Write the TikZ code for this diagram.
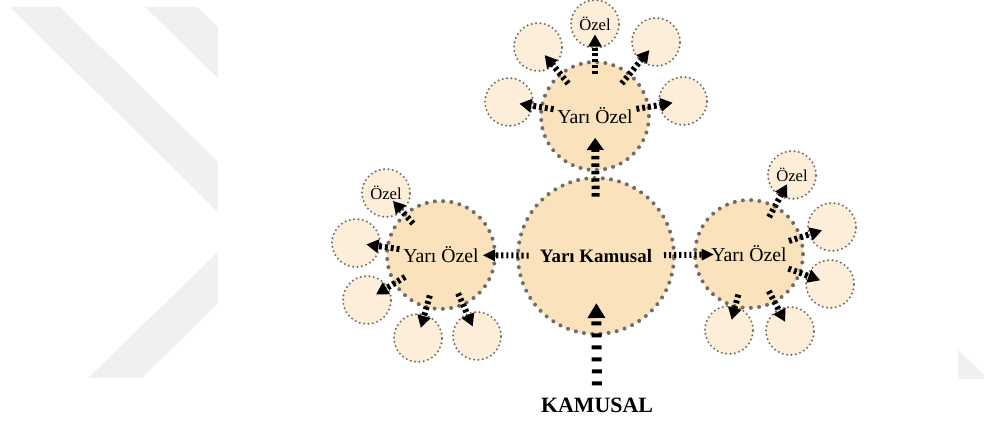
\documentclass[tikz,border=0pt]{standalone}
\usepackage{fontspec}
\setmainfont{Liberation Serif}
\usetikzlibrary{arrows.meta}
\definecolor{zonefill}{HTML}{FAE3BC}
\definecolor{cellfill}{HTML}{FDEEDA}
\definecolor{dotgray}{HTML}{726C66}
\definecolor{markgray}{HTML}{F0F0F0}
\begin{document}
\begin{tikzpicture}[x=0.75pt,y=-0.75pt,
  bigzone/.style={circle,fill=zonefill,draw=dotgray,line width=3pt,dash pattern=on 0pt off 6.2pt,line cap=round,inner sep=0pt,outer sep=0pt},
  cell/.style={circle,fill=cellfill,draw=dotgray,line width=1.7pt,dash pattern=on 0pt off 3.3pt,line cap=round,minimum size=36pt,inner sep=0pt,outer sep=0pt,font=\fontsize{12.5}{13}\selectfont},
  semi/.style={bigzone,minimum size=81pt,font=\fontsize{14.8}{16}\selectfont},
  flow/.style={line width=4.5pt,dash pattern=on 2.2pt off 2.2pt,-{Triangle[length=9pt,width=10.5pt,line width=0pt]},shorten <=-9pt,shorten >=-10pt}]
\useasboundingbox (0,0) rectangle (984,423);
% watermark
\fill[markgray] (10,7) -- (60,7) -- (218,162) -- (218,212) -- cycle;
\fill[markgray] (145,7) -- (197,7) -- (218,27) -- (218,78) -- cycle;
\fill[markgray] (218,252) -- (218,303) -- (142,378) -- (88,378) -- cycle;
\fill[markgray] (958,350) -- (984,375) -- (984,379) -- (958,379) -- cycle;

\node[bigzone,minimum size=117pt,font=\fontsize{14.2}{16}\selectfont\bfseries] (ykam) at (596,256) {Yarı Kamusal};
\node[semi] (yoT) at (595,116) {Yarı Özel};
\node[semi] (yoL) at (441,255) {Yarı Özel};
\node[semi] (yoR) at (749,254) {Yarı Özel};
\node[font=\fontsize{16.4}{18}\selectfont\bfseries,inner sep=0pt] (km) at (597,405) {KAMUSAL};

\node[cell] (tO) at (595,24) {Özel};
\node[cell] (tUL) at (538,47) {};
\node[cell] (tUR) at (656,42) {};
\node[cell] (tL) at (509,102) {};
\node[cell] (tR) at (683,101) {};

\node[cell] (lO) at (386,193) {Özel};
\node[cell] (lL) at (356,243) {};
\node[cell] (lLL) at (367,300) {};
\node[cell] (lBL) at (418,338) {};
\node[cell] (lBR) at (477,336) {};

\node[cell] (rO) at (792,175) {Özel};
\node[cell] (rUR) at (832,227) {};
\node[cell] (rLR) at (830,284) {};
\node[cell] (rBL) at (729,330) {};
\node[cell] (rBR) at (790,331) {};

\draw[line width=7.5pt,dash pattern=on 3pt off 6pt,-{Triangle[length=11pt,width=13.5pt,line width=0pt]},shorten <=9pt,shorten >=-23pt] (km) -- (ykam);
\draw[line width=6pt,dash pattern=on 2.6pt off 3pt,-{Triangle[length=9pt,width=13pt,line width=0pt]},shorten <=-14pt,shorten >=-24pt] (ykam) -- (yoT);
\draw[line width=4.5pt,dash pattern=on 1.6pt off 2.2pt,-{Triangle[length=9pt,width=9pt,line width=0pt]},shorten <=-8pt,shorten >=-9pt] (ykam) -- (yoL);
\draw[line width=4.5pt,dash pattern=on 1.6pt off 2.2pt,-{Triangle[length=9pt,width=9pt,line width=0pt]},shorten <=-7.5pt,shorten >=-14pt] (ykam) -- (yoR);

\foreach \c in {tO,tUL,tUR,tL,tR}
  \draw[flow] (yoT) -- (\c);
\foreach \c in {lO,lL,lLL,lBL,lBR}
  \draw[flow] (yoL) -- (\c);
\foreach \c in {rO,rUR,rLR,rBL,rBR}
  \draw[flow] (yoR) -- (\c);
\end{tikzpicture}
\end{document}
